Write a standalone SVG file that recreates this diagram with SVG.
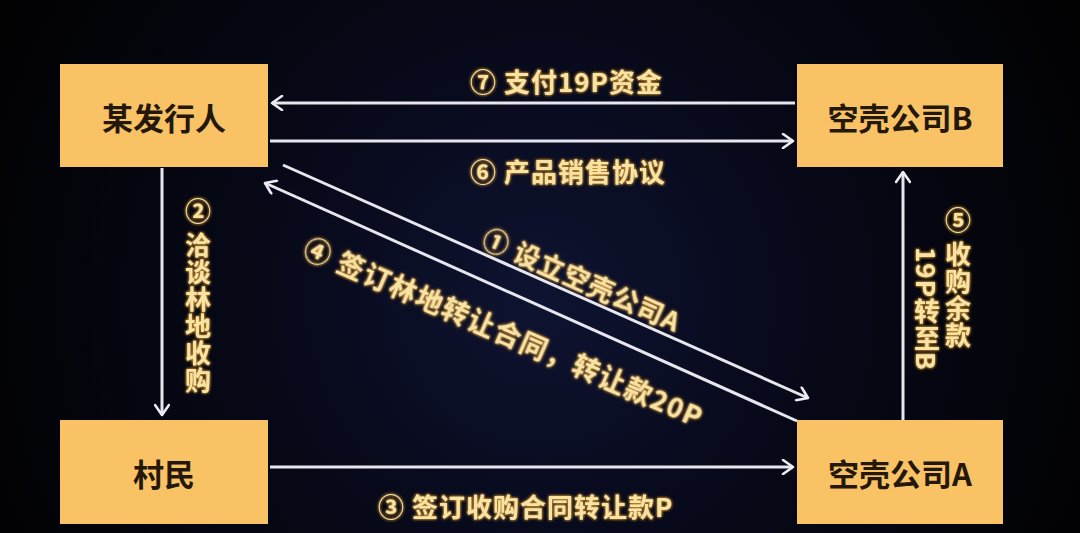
<svg xmlns="http://www.w3.org/2000/svg" width="1080" height="533" viewBox="0 0 1080 533">
<defs>
<radialGradient id="bg" cx="540" cy="300" r="600" gradientUnits="userSpaceOnUse">
<stop offset="0" stop-color="#0e1331"/>
<stop offset="0.5" stop-color="#060816"/>
<stop offset="1" stop-color="#020203"/>
</radialGradient>
<filter id="glow" x="-10%" y="-30%" width="120%" height="160%">
<feGaussianBlur in="SourceAlpha" stdDeviation="1.6" result="b"/>
<feFlood flood-color="#d8962a" flood-opacity="0.9"/>
<feComposite in2="b" operator="in" result="g"/>
<feMerge><feMergeNode in="g"/><feMergeNode in="g"/><feMergeNode in="SourceGraphic"/></feMerge>
</filter>
<marker id="arr" markerWidth="16" markerHeight="16" refX="12" refY="8" orient="auto" markerUnits="userSpaceOnUse">
<path d="M2,1 L12,8 L2,15" fill="none" stroke="#ececf2" stroke-width="2.6" stroke-linecap="round" stroke-linejoin="round"/>
</marker>
</defs>
<style>
.box{fill:#f9c265;}
.bt{font-family:"Noto Sans CJK SC","Liberation Sans",sans-serif;font-weight:700;font-size:31px;fill:#24180b;text-anchor:middle;dominant-baseline:central;}
.lb{font-family:"Noto Sans CJK SC","Liberation Sans",sans-serif;font-weight:700;font-size:26px;fill:#f7e3a4;filter:url(#glow);letter-spacing:1px;}
.vt{writing-mode:vertical-rl;text-orientation:mixed;}
.ln{stroke:#e6e6ee;stroke-width:3;fill:none;marker-end:url(#arr);}
</style>
<rect width="1080" height="533" fill="url(#bg)"/>
<g id="connectors">
<line class="ln" x1="795" y1="103" x2="272" y2="103"/>
<line class="ln" x1="270" y1="141" x2="793" y2="141"/>
<line class="ln" x1="162" y1="168" x2="162" y2="415"/>
<line class="ln" x1="903" y1="420" x2="903" y2="172"/>
<line class="ln" x1="270" y1="467" x2="793" y2="467"/>
<line class="ln" x1="283" y1="165" x2="808" y2="398"/>
<line class="ln" x1="797" y1="421" x2="265" y2="183"/>
</g>
<g id="labels">
<text class="lb" x="470" y="80" dominant-baseline="central">⑦ 支付19P资金</text>
<text class="lb" x="470" y="170" dominant-baseline="central">⑥ 产品销售协议</text>
<text class="lb" x="378" y="505" dominant-baseline="central">③ 签订收购合同转让款P</text>
<text class="lb vt" x="198" y="198">② 洽谈林地收购</text>
<text class="lb vt" x="958" y="207">⑤ 收购余款</text>
<text class="lb vt" x="927" y="247">19P转至B</text>
<text class="lb" transform="translate(497,240) rotate(24)" x="-13" y="0" dominant-baseline="central">① 设立空壳公司A</text>
<text class="lb" transform="translate(318,250) rotate(23.5)" x="-13" y="0" dominant-baseline="central" style="font-size:27px;letter-spacing:1.5px">④ 签订林地转让合同，转让款20P</text>
</g>
<g id="node-issuer"><rect class="box" x="60" y="64" width="208" height="103"/><text class="bt" x="164" y="116">某发行人</text></g>
<g id="node-shellB"><rect class="box" x="797" y="64" width="206" height="103"/><text class="bt" x="900" y="116">空壳公司B</text></g>
<g id="node-villagers"><rect class="box" x="60" y="420" width="208" height="104"/><text class="bt" x="164" y="472">村民</text></g>
<g id="node-shellA"><rect class="box" x="797" y="420" width="206" height="104"/><text class="bt" x="900" y="472">空壳公司A</text></g>
</svg>
